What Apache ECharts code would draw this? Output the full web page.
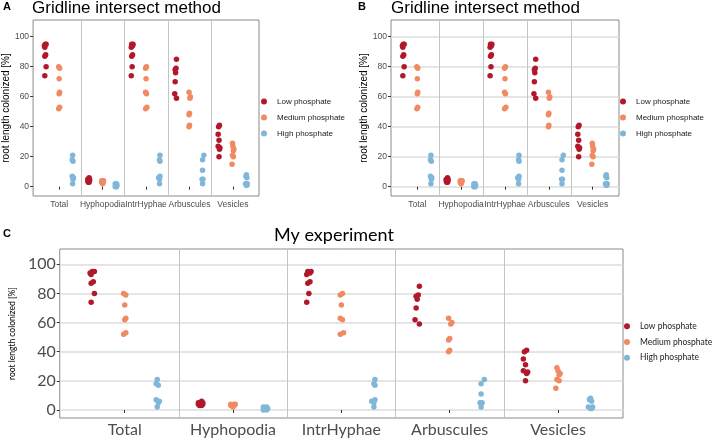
<!DOCTYPE html>
<html><head><meta charset="utf-8">
<script src="https://cdn.jsdelivr.net/npm/echarts@6/dist/echarts.min.js"></script>
<style>html,body{margin:0;padding:0;background:#fff}#c{width:715px;height:439px}</style>
</head><body><div id="c"></div>
<script>
const categories = ['Total', 'Hyphopodia', 'IntrHyphae', 'Arbuscules', 'Vesicles'];
const groups = ['Low phosphate', 'Medium phosphate', 'High phosphate'];
const yTicks = [0, 20, 40, 60, 80, 100];

// values per category (Total, Hyphopodia, IntrHyphae, Arbuscules, Vesicles)
const lowValues = [
  [95, 95, 94, 93, 88, 87, 80, 74],
  [6, 5, 5, 4, 4, 4, 3, 3],
  [95, 95, 94, 93, 88, 87, 80, 74],
  [85, 79, 78, 76, 70, 62, 59],
  [41, 40, 35, 31, 27, 26, 25, 20]
];
const mediumValues = [
  [80, 79, 72, 63, 62, 53, 52],
  [4, 4, 4, 3, 3, 3, 2],
  [80, 79, 72, 63, 62, 53, 52],
  [63, 60, 59, 49, 48, 41, 40],
  [29, 27, 25, 24, 21, 20, 15]
];
const highValues = [
  [21, 18, 17, 7, 6, 5, 2],
  [2, 2, 1, 1, 1, 0, 0],
  [21, 18, 17, 7, 6, 5, 2],
  [21, 18, 11, 5, 5, 2],
  [8, 7, 6, 2, 2, 1, 1]
];
// horizontal jitter of each point (category units)
const lowJitter = [
  [0.00, 0.02, -0.02, -0.01, 0.01, -0.01, 0.02, -0.01],
  [0.01, -0.02, 0.02, 0.00, -0.02, 0.02, -0.01, 0.01],
  [0.02, -0.01, 0.01, -0.02, 0.01, -0.01, 0.00, -0.02],
  [0.02, 0.01, -0.01, 0.00, -0.01, -0.02, 0.02],
  [0.01, -0.01, -0.02, 0.00, -0.02, 0.02, 0.01, 0.00]
];
const mediumJitter = [
  [-0.01, 0.01, 0.00, 0.01, 0.00, 0.01, -0.01],
  [-0.02, 0.01, 0.02, -0.01, 0.01, -0.02, 0.00],
  [0.01, -0.01, 0.00, -0.01, 0.01, 0.02, -0.01],
  [-0.01, 0.02, 0.01, 0.00, -0.01, 0.00, -0.01],
  [-0.01, 0.00, 0.02, 0.01, -0.01, 0.01, -0.02]
];
const highJitter = [
  [0.00, -0.01, 0.01, -0.01, 0.02, 0.01, 0.00],
  [0.01, -0.02, 0.02, -0.01, 0.00, -0.02, 0.01],
  [0.01, 0.00, 0.01, 0.01, -0.02, 0.00, 0.00],
  [0.02, -0.01, -0.01, 0.00, -0.02, -0.01],
  [0.00, -0.01, 0.01, -0.02, 0.02, 0.00, 0.01]
];

const valueSets = [lowValues, mediumValues, highValues];
const jitterSets = [lowJitter, mediumJitter, highJitter];
const colors = ['#b2182b', '#ef8a62', '#80b7d8'];

function points(g, dodge) {
  const out = [];
  valueSets[g].forEach((vals, ci) => {
    vals.forEach((v, i) => out.push([ci + 1 + dodge[g] + jitterSets[g][ci][i], v]));
  });
  return out;
}

const ARIAL = 'Liberation Sans, Arial, sans-serif';
const AVENIR = 'Lato, Noto Sans, sans-serif';

const panels = [
  { grid: { left: 31, top: 20, width: 228, height: 176 }, ymin: -6.2, ymax: 111.1, hgrid: false, font: ARIAL,
    tickSize: 8.5, xSize: 8.5, nameSize: 10, nameGap: 20, sym: 5.5, dodge: [-0.32, 0, 0.31] },
  { grid: { left: 391, top: 20, width: 228, height: 176 }, ymin: -6.2, ymax: 111.1, hgrid: true, font: ARIAL,
    tickSize: 8.5, xSize: 8.5, nameSize: 10, nameGap: 20, sym: 5.5, dodge: [-0.32, 0, 0.31] },
  { grid: { left: 45, top: 249, width: 578, height: 169 }, ymin: -5.5, ymax: 110.5, hgrid: true, font: AVENIR,
    tickSize: 16, xSize: 16, nameSize: 8.5, nameGap: 39, sym: 5.5, dodge: [-0.3, 0, 0.3] }
];

const option = {
  backgroundColor: '#ffffff',
  animation: false,
  title: [
    { text: 'A', left: 3, top: 1, padding: 0, textStyle: { fontFamily: ARIAL, fontSize: 11, fontWeight: 'bold', color: '#000' } },
    { text: 'Gridline intersect method', left: 32, top: 0, padding: 0, textStyle: { fontFamily: ARIAL, fontSize: 17, fontWeight: 'normal', color: '#000' } },
    { text: 'B', left: 358, top: 1, padding: 0, textStyle: { fontFamily: ARIAL, fontSize: 11, fontWeight: 'bold', color: '#000' } },
    { text: 'Gridline intersect method', left: 391, top: 0, padding: 0, textStyle: { fontFamily: ARIAL, fontSize: 17, fontWeight: 'normal', color: '#000' } },
    { text: 'C', left: 3, top: 228, padding: 0, textStyle: { fontFamily: ARIAL, fontSize: 11, fontWeight: 'bold', color: '#000' } },
    { text: 'My experiment', left: 334, textAlign: 'center', top: 226, padding: 0, textStyle: { fontFamily: AVENIR, fontSize: 18, fontWeight: 'normal', color: '#000' } }
  ],
  grid: panels.map(p => Object.assign({ show: true, borderColor: '#8a8a8a', borderWidth: 1, backgroundColor: '#fff' }, p.grid)),
  xAxis: panels.map((p, i) => ({
    type: 'value', gridIndex: i, min: 0.4, max: 5.6,
    axisLine: { show: false },
    axisTick: { show: true, length: 3, customValues: [1, 2, 3, 4, 5], lineStyle: { color: '#333' } },
    axisLabel: { customValues: [1, 2, 3, 4, 5], formatter: v => categories[Math.round(v) - 1] || '',
      fontFamily: p.font, fontSize: p.xSize, color: '#4d4d4d', margin: 4 },
    splitLine: { show: false }
  })),
  yAxis: panels.map((p, i) => ({
    type: 'value', gridIndex: i, min: p.ymin, max: p.ymax,
    name: 'root length colonized [%]', nameLocation: 'middle', nameGap: p.nameGap,
    nameTextStyle: { fontFamily: p.font, fontSize: p.nameSize, color: '#000' },
    axisLine: { show: false },
    axisTick: { show: true, length: 3, customValues: yTicks, lineStyle: { color: '#333' } },
    axisLabel: { customValues: yTicks, fontFamily: p.font, fontSize: p.tickSize, color: '#4d4d4d', margin: 4 },
    splitLine: { show: p.hgrid, lineStyle: { color: '#dcdcdc', width: 1.5 } }
  })),
  legend: [
    { left: 256, top: 90, orient: 'vertical', icon: 'circle', itemWidth: 16, itemHeight: 6, itemGap: 3,
      data: groups, textStyle: { fontFamily: ARIAL, fontSize: 8, color: '#1a1a1a', lineHeight: 13 } },
    { left: 615, top: 90, orient: 'vertical', icon: 'circle', itemWidth: 16, itemHeight: 6, itemGap: 3,
      data: groups, textStyle: { fontFamily: ARIAL, fontSize: 8, color: '#1a1a1a', lineHeight: 13 } },
    { left: 619, top: 315, orient: 'vertical', icon: 'circle', itemWidth: 16, itemHeight: 6, itemGap: 3,
      data: groups, textStyle: { fontFamily: AVENIR, fontSize: 8.5, color: '#1a1a1a', lineHeight: 12.7 } }
  ],
  series: []
};

panels.forEach((p, pi) => {
  groups.forEach((name, g) => {
    const s = {
      type: 'scatter', name: name, xAxisIndex: pi, yAxisIndex: pi,
      data: points(g, p.dodge), symbolSize: p.sym,
      itemStyle: { color: colors[g], opacity: 1 }, z: 3
    };
    if (g === 0) {
      s.markLine = {
        silent: true, symbol: ['none', 'none'], label: { show: false },
        lineStyle: { color: '#c4c4c4', width: 1, type: 'solid' },
        data: [{ xAxis: 1.5 }, { xAxis: 2.5 }, { xAxis: 3.5 }, { xAxis: 4.5 }],
        z: 1
      };
    }
    option.series.push(s);
  });
});

const chart = echarts.init(document.getElementById('c'), null, { renderer: 'canvas' });
chart.setOption(option);
</script>
</body></html>
